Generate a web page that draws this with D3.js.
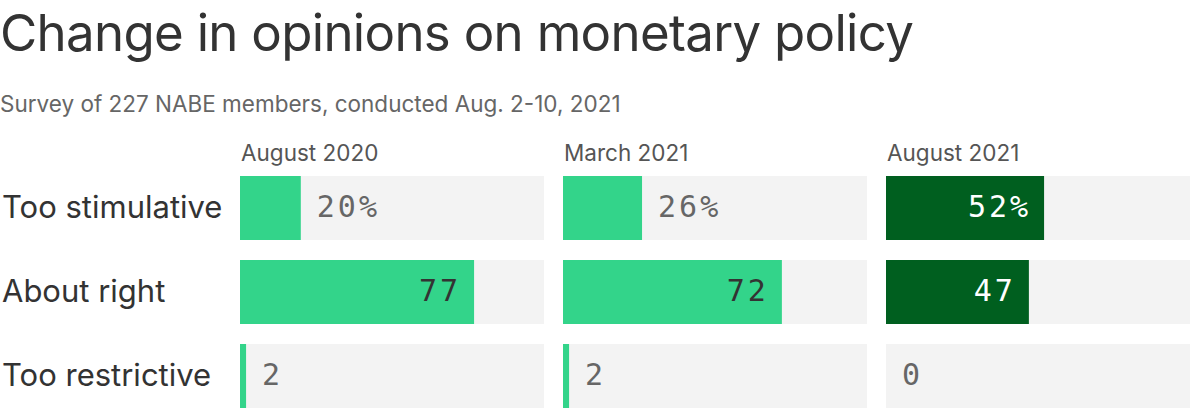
<!DOCTYPE html>
<html><head><meta charset="utf-8">
<script src="https://cdn.jsdelivr.net/npm/d3@7"></script>
<style>body{margin:0;background:#fff}svg{display:block}</style>
</head><body>
<svg id="chart" width="1200" height="408"></svg>
<script>
const categories = ["Too stimulative", "About right", "Too restrictive"];
const periods = ["August 2020", "March 2021", "August 2021"];
const aug2020 = [20, 77, 2];
const mar2021 = [26, 72, 2];
const aug2021 = [52, 47, 0];
const seriesValues = [aug2020, mar2021, aug2021];

const svg = d3.select("#chart");
const sans = "Inter, 'Noto Sans', sans-serif";
const mono = "'DejaVu Sans Mono', monospace";

svg.append("text").attr("x", 0).attr("y", 51).attr("font-family", sans)
  .attr("font-size", 51).attr("fill", "#333").attr("letter-spacing", -0.7)
  .text("Change in opinions on monetary policy");
svg.append("text").attr("x", 0).attr("y", 112).attr("font-family", sans)
  .attr("font-size", 22.5).attr("fill", "#666")
  .text("Survey of 227 NABE members, conducted Aug. 2-10, 2021");

const xPanel = d3.scaleBand().domain(periods).range([240, 1190]).paddingInner(19 / 323).paddingOuter(0);
const y = d3.scaleBand().domain(categories).range([176, 408]).paddingInner(20 / 84).paddingOuter(0);

categories.forEach(c => {
  svg.append("text").attr("x", 2).attr("y", y(c) + y.bandwidth() / 2 + 10)
    .attr("font-family", sans).attr("font-size", 31).attr("fill", "#333").text(c);
});

periods.forEach((p, pi) => {
  const x0 = xPanel(p);
  const w = d3.scaleLinear().domain([0, 100]).range([0, xPanel.bandwidth()]);
  const dark = pi === 2;
  svg.append("text").attr("x", x0 + 1).attr("y", 161).attr("font-family", sans)
    .attr("font-size", 22.5).attr("fill", "#555").text(p);
  const g = svg.append("g");
  categories.forEach((c, ci) => {
    const v = seriesValues[pi][ci];
    g.append("rect").attr("x", x0).attr("y", y(c)).attr("width", xPanel.bandwidth())
      .attr("height", y.bandwidth()).attr("fill", "#f3f3f3");
    g.append("rect").attr("x", x0).attr("y", y(c)).attr("width", w(v))
      .attr("height", y.bandwidth()).attr("fill", dark ? "#005f1f" : "#33d48a");
    const label = ci === 0 ? v + "%" : String(v);
    const inside = w(v) > 100;
    g.append("text")
      .attr("x", inside ? x0 + w(v) - 13 : x0 + w(v) + 16)
      .attr("y", y(c) + y.bandwidth() / 2 + 9)
      .attr("text-anchor", inside ? "end" : "start")
      .attr("font-family", mono).attr("font-size", 30).attr("letter-spacing", 3)
      .attr("fill", inside ? (dark ? "#fff" : "#333") : "#666")
      .text(label);
  });
});
</script>
</body></html>
